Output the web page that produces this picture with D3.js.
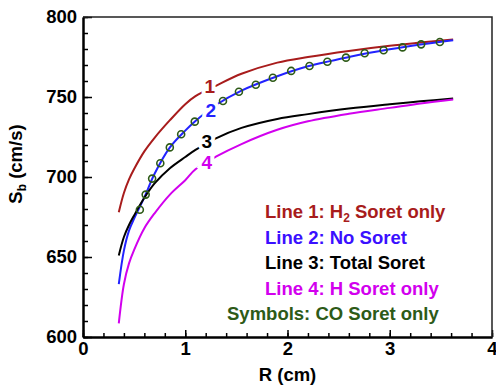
<!DOCTYPE html>
<html>
<head>
<meta charset="utf-8">
<script src="https://cdn.jsdelivr.net/npm/d3@7"></script>
<style>
  body { margin: 0; background: #fff; }
  text { font-family: "Liberation Sans", Arial, sans-serif; font-weight: bold; }
  .axis path, .axis line { stroke: #000; }
  .axis path { stroke-width: 2; }
  .axis line { stroke-width: 1.5; }
</style>
</head>
<body>
<svg id="chart"></svg>
<script>
// radius grid shared by the four lines
var rValues = [0.35, 0.4, 0.45, 0.5, 0.6, 0.7, 0.85, 1.0, 1.1, 1.3, 1.55, 1.9, 2.2, 2.6, 3.0, 3.3, 3.62];

var line1 = [678, 690, 698.5, 705, 716, 724.5, 735.5, 745.5, 750.5, 757, 764.5, 771.5, 775, 778.8, 782, 784, 786];
var line2 = [633, 654, 666.5, 674, 687.3, 702, 718.5, 729, 735, 745, 754, 763, 769.2, 775, 779.8, 782.8, 785.5];
var line3 = [651, 662.5, 670, 676, 687, 696, 705.5, 712.5, 716.9, 724.2, 730.7, 736.3, 739.3, 742.8, 745.5, 747.3, 749];
var line4 = [608.5, 633, 646, 654.5, 668, 677.3, 689, 698, 704.8, 712.7, 720.6, 729.5, 734.8, 739.5, 743.2, 746, 748.5];

// CO Soret only symbols
var symR = [0.556, 0.613, 0.676, 0.756, 0.849, 0.96, 1.093, 1.369, 1.525, 1.69, 1.857, 2.036, 2.215, 2.39, 2.572, 2.755, 2.94, 3.125, 3.307, 3.49];
var symS = [679.5, 689, 699, 708.6, 718.5, 726.7, 734.6, 747.5, 753.3, 757.7, 762, 766.3, 769.4, 772, 774.6, 777.3, 779.2, 781, 782.9, 784.4];

var lineNames = ['1', '2', '3', '4'];
var lineColors = ['#a81c1c', '#2222ff', '#000000', '#d200ee'];
// label anchors (R, S) at the baseline of each number
var labelR = [1.24, 1.25, 1.21, 1.21];
var labelS = [752.7, 737.5, 718, 704.8];

var legendText = ['Line 1: H|2| Soret only', 'Line 2: No Soret', 'Line 3: Total Soret', 'Line 4: H Soret only', 'Symbols: CO Soret only'];
var legendColors = ['#a81c1c', '#3a10ff', '#000000', '#d200ee', '#2d5a17'];

var xTicks = [0, 1, 2, 3, 4];
var yTicks = [600, 650, 700, 750, 800];

var size = { width: 496, height: 386, margin: { top: 17, right: 4, bottom: 49, left: 83 } };
var margin = size.margin;
var width = size.width - margin.left - margin.right;
var height = size.height - margin.top - margin.bottom;

var x = d3.scaleLinear().domain([0, 4]).range([0, width]);
var y = d3.scaleLinear().domain([600, 800]).range([height, 0]);

var svg = d3.select('#chart')
  .attr('width', size.width)
  .attr('height', size.height);

var chart = svg.append('g')
  .attr('transform', `translate(${ margin.left }, ${ margin.top })`);

// minor ticks
chart.append('g')
  .attr('class', 'axis minor')
  .attr('transform', `translate(0, ${ height })`)
  .call(d3.axisBottom(x).tickValues(d3.range(0, 4.01, 0.2)).tickSize(-4).tickSizeOuter(0).tickFormat(''));
chart.append('g')
  .attr('class', 'axis minor')
  .call(d3.axisLeft(y).tickValues(d3.range(600, 801, 10)).tickSize(-5).tickSizeOuter(0).tickFormat(''));

// major ticks
chart.append('g')
  .attr('class', 'axis x')
  .attr('transform', `translate(0, ${ height })`)
  .call(d3.axisBottom(x).tickValues(xTicks).tickSize(-7).tickSizeOuter(0).tickPadding(5).tickFormat(d3.format('d')));
chart.append('g')
  .attr('class', 'axis y')
  .call(d3.axisLeft(y).tickValues(yTicks).tickSize(-9).tickSizeOuter(0).tickPadding(6).tickFormat(d3.format('d')));

chart.selectAll('.axis text')
  .attr('fill', '#000')
  .style('font-size', '18.5px');

// frame top and right
chart.append('path')
  .attr('d', `M0,0H${ width }V${ height }`)
  .attr('fill', 'none')
  .attr('stroke', '#222')
  .attr('stroke-width', 1.5);

var line = d3.line()
  .x(d => x(d[0]))
  .y(d => y(d[1]))
  .curve(d3.curveCatmullRom.alpha(0.5));

[line1, line2, line3, line4].forEach((vals, i) => {
  chart.append('path')
    .datum(rValues.map((r, j) => [r, vals[j]]))
    .attr('d', line)
    .attr('fill', 'none')
    .attr('stroke', lineColors[i])
    .attr('stroke-width', 2);
});

chart.selectAll('.sym')
  .data(symR.map((r, j) => [r, symS[j]]))
  .enter().append('circle')
    .attr('class', 'sym')
    .attr('cx', d => x(d[0]))
    .attr('cy', d => y(d[1]))
    .attr('r', 3.5)
    .attr('fill', 'none')
    .attr('stroke', '#2d5a17')
    .attr('stroke-width', 1.6);

// line numbers, with a white halo that opens a gap in the line
chart.selectAll('.num')
  .data(lineNames)
  .enter().append('text')
    .attr('class', 'num')
    .attr('x', (d, i) => x(labelR[i]))
    .attr('y', (d, i) => y(labelS[i]))
    .attr('text-anchor', 'middle')
    .attr('fill', (d, i) => lineColors[i])
    .attr('stroke', '#fff')
    .attr('stroke-width', 8)
    .attr('paint-order', 'stroke')
    .style('font-size', '19px')
    .text(d => d);

// legend
var legend = svg.append('g');
legendText.forEach((t, i) => {
  var txt = legend.append('text')
    .attr('x', i < 4 ? 265 : 227)
    .attr('y', 218 + i * 25.5)
    .attr('fill', legendColors[i])
    .style('font-size', '18.5px');
  t.split('|').forEach((part, k) => {
    var ts = txt.append('tspan').text(part);
    if (k === 1) ts.attr('dy', 4).style('font-size', '12px');
    if (k === 2) ts.attr('dy', -4);
  });
});

// axis titles
svg.append('text')
  .attr('x', margin.left + x(2))
  .attr('y', 381)
  .attr('text-anchor', 'middle')
  .style('font-size', '18.5px')
  .text('R (cm)');

var yt = svg.append('text')
  .attr('transform', 'translate(22, 164) rotate(-90)')
  .attr('text-anchor', 'middle')
  .style('font-size', '18.5px');
yt.append('tspan').text('S');
yt.append('tspan').attr('dy', 4).style('font-size', '12px').text('b');
yt.append('tspan').attr('dy', -4).text(' (cm/s)');
</script>
</body>
</html>
